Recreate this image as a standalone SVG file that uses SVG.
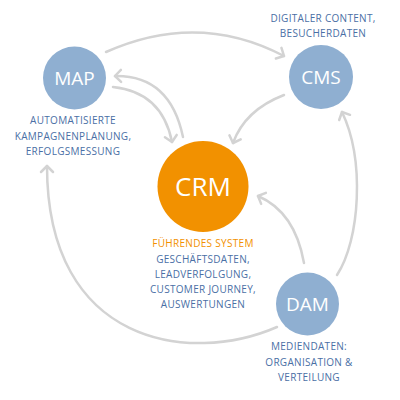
<svg xmlns="http://www.w3.org/2000/svg" width="400" height="400" viewBox="0 0 400 400">
<style>
.c{fill:none;stroke:#d3d3d3;stroke-width:2.5;stroke-linecap:round}
.b{fill:#8fafd1}
.o{fill:#f29100}
.n{font-family:"Open Sans","DejaVu Sans",sans-serif;fill:#fff;text-anchor:middle}
.l{font-family:"Open Sans","DejaVu Sans",sans-serif;font-size:10px;letter-spacing:0.3px;fill:#4a6fa5;text-anchor:middle}
.lo{fill:#f29100}
</style>
<defs>
<marker id="ah" markerUnits="userSpaceOnUse" markerWidth="16" markerHeight="16" refX="8" refY="8" orient="auto" viewBox="0 0 16 16">
<path d="M2,2 L8,8 L2,14" fill="none" stroke="#d3d3d3" stroke-width="2.5" stroke-linecap="round" stroke-linejoin="round"/>
</marker>
</defs>
<g id="connectors">
<path class="c" marker-end="url(#ah)" d="M106,52 Q198,11 284,56"/>
<path class="c" marker-end="url(#ah)" d="M183,137 Q170,75 115,76"/>
<path class="c" marker-end="url(#ah)" d="M113,87 Q162,92 172,142"/>
<path class="c" marker-end="url(#ah)" d="M284,95 Q245,110 233,143"/>
<path class="c" marker-end="url(#ah)" d="M337,275 C360,240 365,160 342,112"/>
<path class="c" marker-end="url(#ah)" d="M304,263 Q295,212 258,196"/>
<path class="c" marker-end="url(#ah)" d="M277,327 C190,365 47,345 47,166"/>
</g>
<g id="map">
<circle class="b" cx="74.5" cy="78" r="31.5"/>
<text class="n" x="74.5" y="84.5" font-size="19">MAP</text>
<text class="l" x="73" y="124">AUTOMATISIERTE</text>
<text class="l" x="73" y="139.5">KAMPAGNENPLANUNG,</text>
<text class="l" x="73" y="155">ERFOLGSMESSUNG</text>
</g>
<g id="cms">
<circle class="b" cx="321" cy="77" r="32"/>
<text class="n" x="321" y="84" font-size="19">CMS</text>
<text class="l" x="323" y="21.5">DIGITALER CONTENT,</text>
<text class="l" x="323" y="37">BESUCHERDATEN</text>
</g>
<g id="crm">
<circle class="o" cx="203" cy="186.5" r="45.5"/>
<text class="n" x="203" y="196" font-size="26">CRM</text>
<text class="l lo" x="203" y="247">FÜHRENDES SYSTEM</text>
<text class="l" x="203" y="262.5">GESCHÄFTSDATEN,</text>
<text class="l" x="203" y="277.5">LEADVERFOLGUNG,</text>
<text class="l" x="203" y="293">CUSTOMER JOURNEY,</text>
<text class="l" x="203" y="308">AUSWERTUNGEN</text>
</g>
<g id="dam">
<circle class="b" cx="307.5" cy="304" r="31.5"/>
<text class="n" x="307.5" y="311" font-size="19">DAM</text>
<text class="l" x="309" y="350">MEDIENDATEN:</text>
<text class="l" x="309" y="366">ORGANISATION &amp;</text>
<text class="l" x="309" y="381">VERTEILUNG</text>
</g>
</svg>
